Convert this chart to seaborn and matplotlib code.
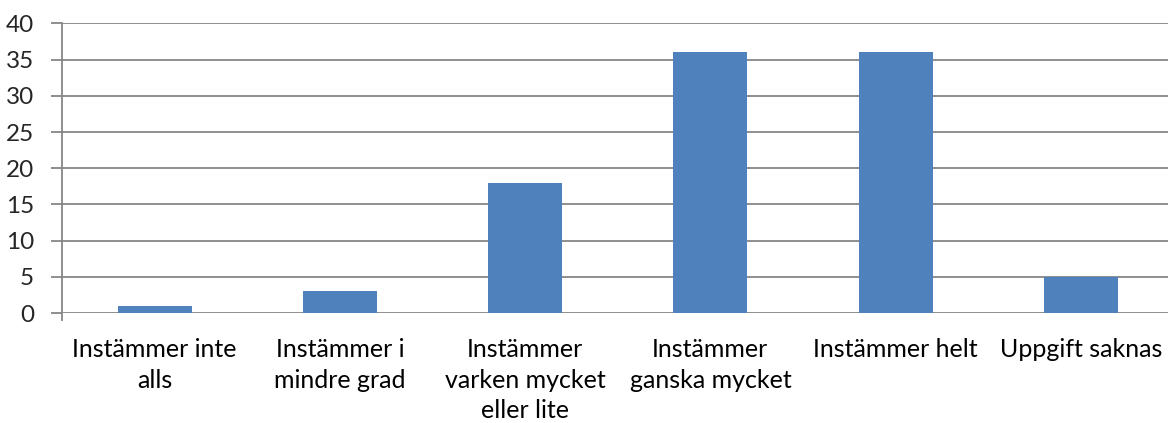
import numpy as np
import pandas as pd
import matplotlib
matplotlib.use("Agg")
import matplotlib.pyplot as plt
import seaborn as sns

categories = ["Instämmer inte\nalls", "Instämmer i\nmindre grad", "Instämmer\nvarken mycket\neller lite",
              "Instämmer\nganska mycket", "Instämmer helt", "Uppgift saknas"]
values = [1, 3, 18, 36, 36, 5]
y_ticks = [0, 5, 10, 15, 20, 25, 30, 35, 40]

df = pd.DataFrame({"kategori": categories, "antal": values})

sns.set_style("white")
plt.rcParams["font.family"] = ["Lato", "DejaVu Sans"]

fig = plt.figure(figsize=(11.68, 4.23), dpi=100)
W, H = 1168, 423
ax = fig.add_axes([62 / W, (H - 313) / H, (W - 62) / W, (313 - 23.5) / H])

sns.barplot(data=df, x="kategori", y="antal", color="#4F81BD", width=0.4,
            saturation=1, ax=ax, zorder=3, edgecolor="none")

grid_col = "#868686"
ax.set_ylim(0, 40)
ax.set_yticks(y_ticks)
ax.set_xlim(-0.5, -0.5 + (W - 62) / 185.25)
for y in y_ticks:
    ax.axhline(y, color=grid_col, lw=1.3, zorder=1)

for s in ["top", "right", "bottom"]:
    ax.spines[s].set_visible(False)
ax.spines["left"].set_color(grid_col)
ax.spines["left"].set_linewidth(1.3)
ax.spines["left"].set_bounds(-1.0, 40)

ax.set_xticks(np.arange(len(categories)))
ax.set_xticklabels(categories, linespacing=1.4)
ax.set_xticks(np.arange(len(categories)) - 0.5, minor=True)
ax.tick_params(axis="x", which="major", length=0, pad=18, labelsize=18, colors="black")
ax.tick_params(axis="x", which="minor", length=8, width=1.3, color=grid_col, direction="out")
ax.tick_params(axis="y", length=8, width=1.3, color=grid_col, labelsize=17.5, pad=12, left=True)
ax.set_xlabel("")
ax.set_ylabel("")
ax.spines["left"].set_clip_on(False)

fig.savefig("out.png", dpi=100)
